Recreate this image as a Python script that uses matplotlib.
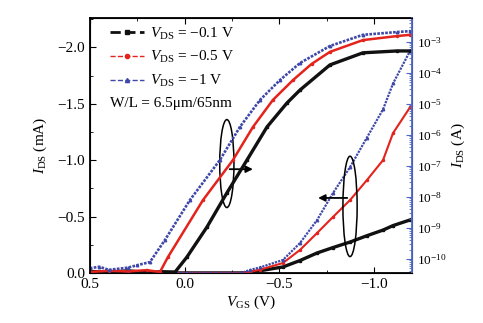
import numpy as np
import matplotlib
matplotlib.use("Agg")
import matplotlib.pyplot as plt
from matplotlib.patches import Ellipse
from matplotlib.lines import Line2D
from matplotlib.ticker import MultipleLocator, LogLocator, FixedLocator, NullFormatter

plt.rcParams["font.family"] = ["Liberation Serif", "DejaVu Serif"]
plt.rcParams["mathtext.fontset"] = "custom"
plt.rcParams["mathtext.rm"] = "Liberation Serif"
plt.rcParams["mathtext.it"] = "Liberation Serif:italic"

BLACK = "#111111"
RED = "#e3231c"
BLUE = "#3f48a8"
SPINE_BLUE = "#5068c8"

labels = ["$V_{\\rm DS}$ = \u22120.1 V", "$V_{\\rm DS}$ = \u22120.5 V", "$V_{\\rm DS}$ = \u22121 V"]

# transfer curves on log scale (right axis), log10(|I| / A)
vgs_log_black = [0.5, 0.4, 0.3, 0.2, 0.12, 0.05, -0.012, -0.118, -0.223, -0.329, -0.435,
                 -0.54, -0.609, -0.767, -0.941, -1.121, -1.19]
log_black = [-10.40, -10.43, -10.38, -10.44, -10.41, -10.42, -9.94, -8.97, -7.87, -6.81, -5.74,
             -4.97, -4.55, -3.74, -3.35, -3.29, -3.29]

vgs_log_red = [0.5, 0.4, 0.3, 0.2, 0.13, 0.088, -0.097, -0.255, -0.361, -0.466, -0.572,
               -0.67, -0.767, -0.941, -1.121, -1.19]
log_red = [-10.42, -10.38, -10.40, -10.36, -10.42, -9.94, -8.10, -6.81, -5.74, -4.87, -4.23,
           -3.71, -3.32, -2.94, -2.81, -2.77]

vgs_log_blue = [0.5, 0.45, 0.4, 0.3, 0.25, 0.183, 0.104, -0.028, -0.186, -0.292, -0.398,
                -0.503, -0.609, -0.767, -0.941, -1.121, -1.19]
log_blue = [-10.30, -10.25, -10.35, -10.28, -10.20, -10.10, -9.39, -8.10, -6.81, -5.74, -4.87,
            -4.23, -3.68, -3.13, -2.77, -2.68, -2.65]

# transfer curves on linear scale (left axis), mA
vgs_lin = [0.5, 0.0, -0.3, -0.345, -0.4, -0.519, -0.609, -0.699, -0.783, -0.873, -0.962,
           -1.047, -1.10, -1.19]
ids_black = [0.0, 0.0, 0.0, -0.005, -0.02, -0.053, -0.11, -0.177, -0.225, -0.274, -0.33,
             -0.38, -0.42, -0.47]
ids_red = [0.0, 0.0, 0.0, -0.009, -0.03, -0.088, -0.204, -0.354, -0.496, -0.646, -0.823,
           -1.0, -1.24, -1.47]
ids_blue = [0.0, 0.0, 0.0, -0.027, -0.05, -0.115, -0.265, -0.469, -0.708, -0.938, -1.20,
            -1.45, -1.68, -1.97]

log_ticks = [1e-10, 1e-9, 1e-8, 1e-7, 1e-6, 1e-5, 1e-4, 1e-3]


def main():
    fig = plt.figure(figsize=(4.83, 3.23), dpi=100)
    ax = fig.add_axes([0.186, 0.155, 0.667, 0.789])
    ax2 = ax.twinx()

    ax.plot(vgs_lin, ids_black, color=BLACK, lw=2.4, marker="s", ms=1.8, zorder=3)
    ax.plot(vgs_lin, ids_red, color=RED, lw=1.5, marker="o", ms=1.5, zorder=3)
    ax.plot(vgs_lin, ids_blue, color=BLUE, lw=1.6, ls=(0, (1, 0.5)), marker="^", ms=1.8, zorder=3)

    ax2.plot(vgs_log_black, 10 ** np.array(log_black), color=BLACK, lw=2.4, marker="s", ms=1.8)
    ax2.plot(vgs_log_red, 10 ** np.array(log_red), color=RED, lw=1.8, marker="o", ms=1.5)
    ax2.plot(vgs_log_blue, 10 ** np.array(log_blue), color=BLUE, lw=1.9, ls=(0, (1, 0.5)),
             marker="^", ms=1.8)

    ax.set_xlim(0.5, -1.2)
    ax.set_ylim(0.0, -2.26)
    ax2.set_yscale("log")
    ax2.set_ylim(10 ** -10.45, 10 ** -2.23)

    ax.xaxis.set_major_locator(FixedLocator([0.5, 0.0, -0.5, -1.0]))
    ax.xaxis.set_minor_locator(MultipleLocator(0.25))
    ax.yaxis.set_major_locator(MultipleLocator(0.5))
    ax.yaxis.set_minor_locator(MultipleLocator(0.25))
    ax.xaxis.set_major_formatter(lambda v, p: f"{v:.1f}".replace("-", "\u2212"))
    ax.yaxis.set_major_formatter(lambda v, p: f"{v:.1f}".replace("-", "\u2212"))

    ax.tick_params(axis="both", which="both", direction="in", top=True, labelsize=11)
    ax.tick_params(which="major", length=4)
    ax.tick_params(which="minor", length=2.5)

    ax2.yaxis.set_major_locator(FixedLocator(log_ticks))
    ax2.yaxis.set_minor_locator(LogLocator(base=10, subs=np.arange(2, 10), numticks=20))
    ax2.yaxis.set_minor_formatter(NullFormatter())
    ax2.tick_params(axis="y", which="both", direction="in", colors=SPINE_BLUE,
                    labelcolor="black", labelsize=9.5)
    ax2.tick_params(which="major", length=4)
    ax2.tick_params(which="minor", length=2)
    ax2.spines["right"].set_color(SPINE_BLUE)
    ax2.spines["right"].set_linewidth(1.3)
    for s in ["left", "top", "bottom"]:
        ax.spines[s].set_linewidth(1.3)

    ax.set_xlabel("$V_{\\rm GS}$ (V)", fontsize=11, labelpad=2)
    ax.set_ylabel("$I_{\\rm DS}$ (mA)", fontsize=11, labelpad=6)
    ax2.set_ylabel("$I_{\\rm DS}$ (A)", fontsize=11, labelpad=2)

    # ellipses + arrows
    ax.add_patch(Ellipse((-0.223, -0.97), 0.075, 0.78, fill=False, ec="black", lw=1.1, zorder=5))
    ax.annotate("", xy=(-0.375, -0.92), xytext=(-0.223, -0.92),
                arrowprops=dict(arrowstyle="-|>", color="black", lw=1.3, mutation_scale=10),
                zorder=5)
    ax.add_patch(Ellipse((-0.873, -0.59), 0.075, 0.89, fill=False, ec="black", lw=1.1, zorder=5))
    ax.annotate("", xy=(-0.69, -0.665), xytext=(-0.873, -0.665),
                arrowprops=dict(arrowstyle="-|>", color="black", lw=1.3, mutation_scale=10),
                zorder=5)

    handles = [
        Line2D([], [], color=BLACK, lw=2, ls="--", marker="s", ms=3),
        Line2D([], [], color=RED, lw=1, ls="--", marker="o", ms=3),
        Line2D([], [], color=BLUE, lw=1, ls="--", marker="^", ms=3),
    ]
    ax.legend(handles, labels, loc="upper left", frameon=False, fontsize=11,
              handlelength=2.2, handletextpad=0.4, labelspacing=0.5,
              borderaxespad=0.0, bbox_to_anchor=(0.045, 0.995))
    ax.text(0.062, 0.665, "W/L = 6.5\u03bcm/65nm", transform=ax.transAxes, fontsize=11,
            va="center", ha="left")

    fig.savefig("out.png", dpi=100)


if __name__ == "__main__":
    main()
